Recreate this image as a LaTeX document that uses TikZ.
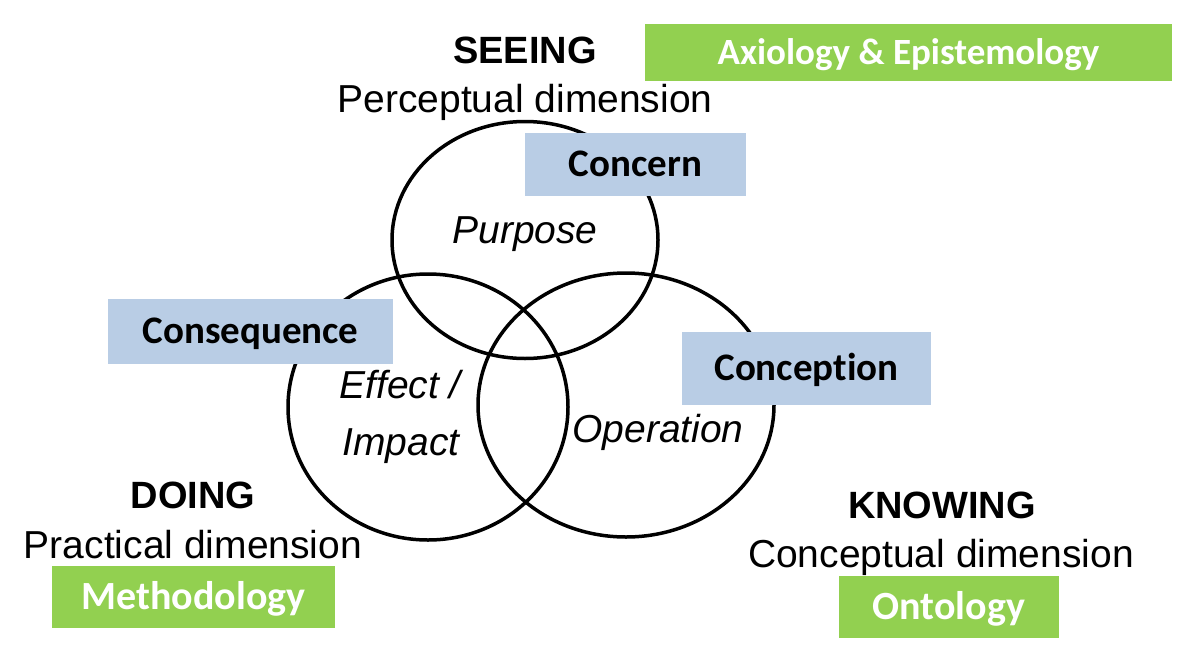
\documentclass[tikz,border=0pt]{standalone}
\usepackage{fontspec}
\setmainfont{Liberation Sans}
\newfontfamily\carlito[Ligatures=NoCommon]{Carlito}
\definecolor{boxblue}{HTML}{B9CDE5}
\definecolor{boxgreen}{HTML}{92D050}
\begin{document}
\begin{tikzpicture}[x=1pt,y=-1pt,
  ring/.style={line width=3.5pt},
  labelbox/.style={inner sep=0pt, font=\carlito\bfseries\fontsize{39}{41}\selectfont, text height=24pt, text depth=0pt},
  bluebox/.style={labelbox, fill=boxblue, text=black},
  greenbox/.style={labelbox, fill=boxgreen, text=white},
  heading/.style={anchor=base, inner sep=0pt, font=\bfseries\fontsize{38}{40}\selectfont},
  dimtext/.style={anchor=base, inner sep=0pt, font=\fontsize{39}{42}\selectfont},
  inner/.style={anchor=base, inner sep=0pt, font=\itshape\fontsize{39}{42}\selectfont}]
\useasboundingbox (0,0) rectangle (1200,664);
% circles
\draw[ring] (525,240) ellipse [x radius=133pt, y radius=118.5pt];
\draw[ring] (428,407) ellipse [x radius=140pt, y radius=133pt];
\draw[ring] (626,405) ellipse [x radius=148pt, y radius=132pt];
% inner labels
\node[inner] (purpose) at (525,243) {Purpose};
\node[inner] (effect) at (400,398) {Effect /};
\node[inner] (impact) at (401,455) {Impact};
\node[inner] (operation) at (658,442) {Operation};
% boxes
\node[bluebox, minimum width=221pt, minimum height=63pt] (concern) at (635.5,164.5) {Concern};
\node[bluebox, minimum width=285pt, minimum height=65pt] (consequence) at (250.5,331.5) {Consequence};
\node[bluebox, minimum width=249pt, minimum height=73pt] (conception) at (806.5,368.5) {Conception};
\node[greenbox, minimum width=527pt, minimum height=57pt, font=\carlito\bfseries\fontsize{37}{40}\selectfont] (axio) at (908.5,52.5) {Axiology \& Epistemology};
\node[greenbox, minimum width=283pt, minimum height=62pt, font=\carlito\bfseries\fontsize{40}{42}\selectfont] (method) at (193.5,597) {Methodology};
\node[greenbox, minimum width=220pt, minimum height=62pt, font=\carlito\bfseries\fontsize{40}{42}\selectfont] (onto) at (949,607) {Ontology};
% headings
\node[heading] (seeing) at (525,63) {SEEING};
\node[dimtext] (perc) at (525,112) {Perceptual dimension};
\node[heading] (doing) at (193,508) {DOING};
\node[dimtext] (prac) at (193,558) {Practical dimension};
\node[heading] (knowing) at (942,518) {KNOWING};
\node[dimtext] (conc) at (941,567) {Conceptual dimension};
\end{tikzpicture}
\end{document}
